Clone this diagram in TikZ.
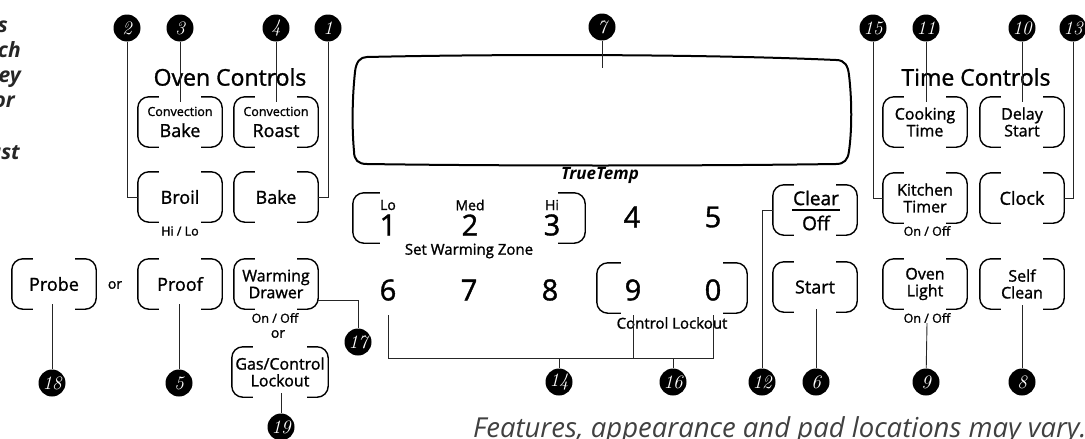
\documentclass[tikz,border=0pt]{standalone}
\usepackage{fontspec}
\setsansfont{Open Sans}
\newfontfamily\gefont{Open Sans}[FakeBold=1.3]
\renewcommand\familydefault{\sfdefault}
\usetikzlibrary{calc}
\newcommand\fs[1]{\gefont\fontsize{#1}{#1}\selectfont}
\newcommand\padframe[2][21pt]{%
  \draw[padline] ($(#2.north west)+(#1,0)$) -- (#2.north west) -- (#2.south west) -- ($(#2.south west)+(#1,0)$);
  \draw[padline] ($(#2.north east)+(-#1,0)$) -- (#2.north east) -- (#2.south east) -- ($(#2.south east)+(-#1,0)$);}
\begin{document}
\begin{tikzpicture}[x=1pt,y=-1pt,
  pad/.style={minimum width=84pt, minimum height=50pt, inner sep=0pt, align=center, font=\fs{18}},
  pad2/.style={pad, font=\fs{16}\linespread{1.05}\selectfont},
  padline/.style={line width=1.4pt, rounded corners=11pt},
  conn/.style={line width=0.9pt, draw=black!85},
  num/.style={circle, fill=black, text=white, minimum size=27pt, inner sep=0pt, font=\rmfamily\itshape\fontsize{19}{19}\selectfont},
  small/.style={inner sep=0pt, font=\fs{12.5}},
  digit/.style={inner sep=0pt, font=\fs{29}},
  title/.style={inner sep=0pt, font=\fs{23}},
  frag/.style={inner sep=0pt, anchor=base east, font=\sffamily\bfseries\itshape\fontsize{21}{21}\selectfont, text=black!85}]
\useasboundingbox (0,0) rectangle (1085,439);
% left text fragments
\node[frag] (f1) at (8,32) {s};
\node[frag] (f2) at (21,57) {ch};
\node[frag] (f3) at (21,82) {ey};
\node[frag] (f4) at (15,107) {or};
\node[frag] (f5) at (20,159) {ust};
% titles
\node[title] (oc) at (230,77) {Oven Controls};
\node[title] (tc) at (976,77) {Time Controls};
% oven pads
\node[pad] (cbake) at (180,122) {{\fs{12.5}Convection}\\[3pt]Bake};
\node[pad] (croast) at (276,122) {{\fs{12.5}Convection}\\[3pt]Roast};
\node[pad] (broil) at (180,197) {Broil};
\node[pad] (bake) at (276,197) {Bake};
\node[small] (hilo) at (180,231) {Hi / Lo};
\node[pad] (probe) at (54,284) {Probe};
\node[small, font=\fs{14}] (or1) at (115,285) {or};
\node[pad] (proof) at (180,284) {Proof};
\node[pad2] (wdrawer) at (276,284) {Warming\\Drawer};
\node[small] (wdon) at (275,318) {On / Off};
\node[small, font=\fs{14}] (or2) at (278,334) {or};
\node[pad2, minimum width=96pt] (gas) at (280,372) {Gas/Control\\Lockout};
% display
\draw[line width=2pt] (367,57) .. controls (500,54) and (700,54) .. (836,60)
  .. controls (845,60) and (848,66) .. (849,75)
  .. controls (852,100) and (852,130) .. (849,151)
  .. controls (848,160) and (844,164) .. (836,164)
  .. controls (700,166) and (500,166) .. (367,164)
  .. controls (358,164) and (354,160) .. (354,151)
  .. controls (352,130) and (352,100) .. (355,72)
  .. controls (356,62) and (360,57) .. (367,57) -- cycle;
\coordinate (c7) at (602,68);
\node[inner sep=0pt, font=\sffamily\bfseries\itshape\fontsize{17}{17}\selectfont] (tt) at (600,175) {TrueTemp};
% keypad
\node[pad, minimum width=232pt] (zone) at (469,218) {};
\node[small, font=\fs{14}] (lo) at (388,205) {Lo};
\node[small, font=\fs{14}] (med) at (470,205) {Med};
\node[small, font=\fs{14}] (hi) at (552,205) {Hi};
\node[digit] (d1) at (388,225) {1};
\node[digit] (d2) at (470,225) {2};
\node[digit] (d3) at (552,225) {3};
\node[digit] (d4) at (632,217) {4};
\node[digit] (d5) at (713,217) {5};
\node[small, font=\fs{15}] (zl) at (469,251) {Set Warming Zone};
\node[digit] (d6) at (388,290) {6};
\node[digit] (d7) at (469,290) {7};
\node[digit] (d8) at (550,290) {8};
\node[digit] (d9) at (633,290) {9};
\node[digit] (d0) at (713,290) {0};
\node[pad, minimum width=150pt] (lock) at (672,288) {};
\node[small, font=\fs{15}] (cl) at (672,323) {Control Lockout};
% clear / start
\node[pad] (clear) at (815,210) {};
\node[inner sep=0pt, font=\fs{19}] (clr1) at (816,198) {Clear};
\node[inner sep=0pt, font=\fs{19}] (clr2) at (816,223) {Off};
\draw[line width=1.1pt] ($(clear.center)+(-23,0)$) -- ($(clear.center)+(25,0)$);
\node[pad] (start) at (815,287) {Start};
% time pads
\node[pad2] (cook) at (925,122) {Cooking\\Time};
\node[pad2] (delay) at (1022,122) {Delay\\Start};
\node[pad2] (ktimer) at (925,198) {Kitchen\\Timer};
\node[pad] (clock) at (1022,198) {Clock};
\node[small] (kton) at (927,231) {On / Off};
\node[pad2] (olight) at (925,284) {Oven\\Light};
\node[small] (olon) at (927,318) {On / Off};
\node[pad2] (self) at (1022,284) {Self\\Clean};
% pad frames
\foreach \p in {cbake,croast,broil,bake,probe,proof,wdrawer,gas,clear,start,cook,delay,ktimer,clock,olight,self}{\padframe{\p}}
\padframe[27pt]{zone}
\padframe[24pt]{lock}
% number circles
\node[num] (n1) at (328,28) {1};
\node[num] (n2) at (127,28) {2};
\node[num] (n3) at (180,28) {3};
\node[num] (n4) at (276,28) {4};
\node[num] (n7) at (602,27) {7};
\node[num] (n15) at (873,28) {15};
\node[num] (n11) at (926,28) {11};
\node[num] (n10) at (1022,28) {10};
\node[num] (n13) at (1073,28) {13};
\node[num] (n18) at (52,383) {18};
\node[num] (n5) at (179,383) {5};
\node[num] (n19) at (281,427) {19};
\node[num] (n17) at (358,342) {17};
\node[num] (n14) at (559,382) {14};
\node[num] (n16) at (673,382) {16};
\node[num] (n12) at (762,382) {12};
\node[num] (n6) at (816,382) {6};
\node[num] (n9) at (926,382) {9};
\node[num] (n8) at (1022,382) {8};
% connectors
\draw[conn] (n2) |- (broil.west);
\draw[conn] (n3) -- ($(n3 |- cbake.north)+(0,5)$);
\draw[conn] (n4) -- ($(n4 |- croast.north)+(0,5)$);
\draw[conn] (n1) |- (bake.east);
\draw[conn] (n7) -- (c7);
\draw[conn] (n15) |- (ktimer.west);
\draw[conn] (n11) -- ($(n11 |- cook.north)+(0,5)$);
\draw[conn] (n10) -- ($(n10 |- delay.north)+(0,5)$);
\draw[conn] (n13) |- (clock.east);
\draw[conn] (n18) -- ($(n18 |- probe.south)+(0,-5)$);
\draw[conn] (n5) -- ($(n5 |- proof.south)+(0,-5)$);
\draw[conn] ($(wdrawer.east)+(0,16)$) -| (n17);
\draw[conn] (n19) -- ($(n19 |- gas.south)+(0,-4)$);
\draw[conn] (n12) |- (clear.west);
\draw[conn] (n6) -- ($(n6 |- start.south)+(0,-3)$);
\draw[conn] (n9) -- (olon.south);
\draw[conn] (n8) -- ($(n8 |- self.south)+(0,-4)$);
\coordinate (t6) at (388,315);
\coordinate (t9) at (633,315);
\coordinate (t0) at (713,315);
\coordinate (busL) at (388,358);
\coordinate (busR) at (713,358);
\draw[conn] (t6) -- (busL) -- (busR) -- (t0);
\draw[conn] (t9) -- (t9 |- busL);
\draw[conn] (n14) -- (n14 |- busL);
\draw[conn] (n16) -- (n16 |- busL);
% footnote
\node[inner sep=0pt, anchor=base west, font=\sffamily\itshape\fontsize{27.5}{27.5}\selectfont, text=black!75] (foot) at (473,437) {Features, appearance and pad locations may vary.};
\end{tikzpicture}
\end{document}
